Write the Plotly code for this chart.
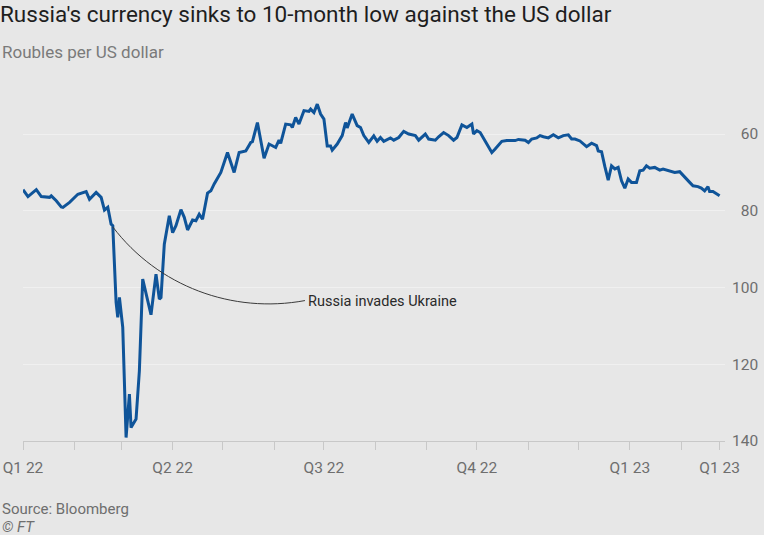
import pandas as pd
import plotly.graph_objects as go

# ---- data ----
dates = [
    "2022-01-01", "2022-01-04", "2022-01-09", "2022-01-12", "2022-01-17", "2022-01-18",
    "2022-01-21", "2022-01-24", "2022-01-25", "2022-01-29", "2022-02-03", "2022-02-08",
    "2022-02-10", "2022-02-14", "2022-02-17", "2022-02-19", "2022-02-21", "2022-02-23",
    "2022-02-24", "2022-02-26", "2022-02-27", "2022-02-28", "2022-03-02", "2022-03-04",
    "2022-03-06", "2022-03-07", "2022-03-10", "2022-03-12", "2022-03-14", "2022-03-16",
    "2022-03-19", "2022-03-22", "2022-03-24", "2022-03-25", "2022-03-27", "2022-03-30",
    "2022-04-01", "2022-04-03", "2022-04-06", "2022-04-08", "2022-04-10", "2022-04-13",
    "2022-04-15", "2022-04-17", "2022-04-19", "2022-04-22", "2022-04-24", "2022-04-26",
    "2022-04-30", "2022-05-04", "2022-05-08", "2022-05-11", "2022-05-15", "2022-05-18",
    "2022-05-19", "2022-05-22", "2022-05-26", "2022-05-29", "2022-06-02", "2022-06-04",
    "2022-06-05", "2022-06-08", "2022-06-11", "2022-06-12", "2022-06-14", "2022-06-16",
    "2022-06-19", "2022-06-22", "2022-06-23", "2022-06-25", "2022-06-27", "2022-06-29",
    "2022-07-01", "2022-07-03", "2022-07-05", "2022-07-06", "2022-07-09", "2022-07-12",
    "2022-07-14", "2022-07-15", "2022-07-18", "2022-07-21", "2022-07-23", "2022-07-25",
    "2022-07-28", "2022-07-31", "2022-08-02", "2022-08-04", "2022-08-06", "2022-08-10",
    "2022-08-12", "2022-08-15", "2022-08-18", "2022-08-21", "2022-08-25", "2022-08-27",
    "2022-08-31", "2022-09-02", "2022-09-06", "2022-09-08", "2022-09-11", "2022-09-14",
    "2022-09-17", "2022-09-19", "2022-09-22", "2022-09-25", "2022-09-28", "2022-09-29",
    "2022-10-01", "2022-10-03", "2022-10-06", "2022-10-10", "2022-10-12", "2022-10-16",
    "2022-10-19", "2022-10-22", "2022-10-24", "2022-10-26", "2022-10-30", "2022-11-01",
    "2022-11-03", "2022-11-06", "2022-11-08", "2022-11-10", "2022-11-13", "2022-11-16",
    "2022-11-19", "2022-11-22", "2022-11-25", "2022-11-27", "2022-11-29", "2022-12-02",
    "2022-12-06", "2022-12-09", "2022-12-12", "2022-12-13", "2022-12-15", "2022-12-17",
    "2022-12-19", "2022-12-21", "2022-12-23", "2022-12-25", "2022-12-27", "2022-12-29",
    "2022-12-31", "2023-01-02", "2023-01-05", "2023-01-07", "2023-01-09", "2023-01-11",
    "2023-01-13", "2023-01-16", "2023-01-19", "2023-01-21", "2023-01-24", "2023-01-28",
    "2023-01-31", "2023-02-03", "2023-02-06", "2023-02-08", "2023-02-11", "2023-02-13",
    "2023-02-15", "2023-02-17", "2023-02-18", "2023-02-20", "2023-02-22", "2023-02-24",
]
roubles_per_usd = [
    74.5, 76.3, 74.5, 76.3, 76.5, 76.1,
    77.4, 79.0, 79.1, 77.8, 75.7, 75.0,
    77.0, 75.2, 76.5, 79.8, 79.1, 83.5,
    83.9, 103.9, 107.8, 102.6, 110.4, 139.1,
    127.8, 136.5, 134.3, 121.7, 97.8, 101.3,
    107.1, 96.5, 103.0, 102.6, 88.7, 81.3,
    85.7, 83.9, 79.7, 81.7, 85.0, 82.4,
    82.6, 80.9, 82.2, 75.4, 74.8, 73.0,
    70.0, 64.8, 70.0, 64.8, 64.4, 62.2,
    62.0, 57.0, 66.3, 62.6, 63.5, 61.6,
    62.4, 57.4, 57.6, 58.3, 55.7, 57.4,
    53.9, 54.1, 53.5, 54.4, 52.2, 54.8,
    56.1, 63.1, 63.1, 64.2, 62.6, 60.4,
    57.0, 58.4, 54.8, 57.8, 58.3, 60.4,
    62.2, 60.5, 61.9, 60.9, 61.9, 61.0,
    61.6, 60.9, 59.3, 60.0, 60.4, 61.6,
    60.0, 61.3, 61.6, 60.7, 59.6, 60.4,
    61.6, 60.9, 57.6, 58.3, 57.4, 60.0,
    59.1, 59.6, 61.9, 64.8, 63.9, 61.9,
    61.7, 61.6, 61.7, 61.4, 61.6, 62.2,
    61.3, 61.0, 60.4, 60.7, 61.0, 60.2,
    61.0, 60.4, 60.2, 61.3, 61.3, 61.8,
    63.3, 62.4, 63.0, 64.4, 64.6, 68.5,
    72.0, 68.3, 69.1, 68.7, 72.2, 74.1,
    71.7, 72.6, 72.6, 69.6, 69.4, 68.3,
    68.9, 68.7, 69.4, 69.1, 69.4, 70.0,
    69.8, 71.3, 72.6, 73.5, 73.7, 74.1,
    74.8, 73.7, 75.0, 75.0, 75.5, 76.1,
]

# x-axis ticks: monthly ticks, labelled at quarter starts and at the last date
x_tick_dates = [
    "2022-01-01", "2022-02-01", "2022-03-01", "2022-04-01", "2022-05-01",
    "2022-06-01", "2022-07-01", "2022-08-01", "2022-09-01", "2022-10-01",
    "2022-11-01", "2022-12-01", "2023-01-01", "2023-02-01", "2023-02-24",
]
x_tick_labels = [
    "Q1 22", "", "", "Q2 22", "", "", "Q3 22", "", "", "Q4 22",
    "", "", "Q1 23", "", "Q1 23",
]
y_tick_values = [60, 80, 100, 120, 140]
y_tick_labels = ["\u200760", "\u200780", "100", "120", "140"]

annotation_text = "Russia invades Ukraine"
title_text = "Russia's currency sinks to 10-month low against the US dollar"
subtitle_text = "Roubles per US dollar"
source_text = "Source: Bloomberg"
credit_text = "© FT"

# ---- layout constants ----
W, H = 764, 535
ML, MR, MT, MB = 23, 39, 88, 94
PW, PH = W - ML - MR, H - MT - MB
BG = "#e7e7e7"
BLUE = "#0f5499"
GREY_TXT = "#6e6e6e"
FONT = "Roboto"

def ms(d):
    return pd.Timestamp(d).value / 1e6

# leader line (arc approximated with a cubic Bezier, in data coordinates)
p0 = ("2022-02-24", 84.2)
c1 = ("2022-03-23 05:00", 99.7)
c2 = ("2022-05-07", 106.9)
p3 = ("2022-06-19 14:00", 103.4)
path = "M {},{} C {},{} {},{} {},{}".format(
    ms(p0[0]), p0[1], ms(c1[0]), c1[1], ms(c2[0]), c2[1], ms(p3[0]), p3[1]
)

fig = go.Figure()
fig.add_trace(go.Scatter(
    x=pd.to_datetime(dates), y=roubles_per_usd, mode="lines",
    line=dict(color=BLUE, width=3), hoverinfo="skip", showlegend=False,
))

fig.add_shape(type="path", path=path, xref="x", yref="y",
              line=dict(color="#3a3a3a", width=1), layer="above")

fig.add_annotation(x=pd.Timestamp("2022-06-20 06:00"), y=103.6, xref="x", yref="y",
                   text=annotation_text, showarrow=False, xanchor="left", yanchor="middle",
                   font=dict(family=FONT, size=14.5, color="#2a2a2a"))

fig.add_annotation(x=-ML / PW, y=1 + (MT - 52) / PH, xref="paper", yref="paper",
                   text=subtitle_text, showarrow=False, xanchor="left", yanchor="middle",
                   font=dict(family=FONT, size=17, color="#7a7a7a"))
fig.add_annotation(x=-ML / PW, y=-(509 - (H - MB)) / PH, xref="paper", yref="paper",
                   text=source_text, showarrow=False, xanchor="left", yanchor="middle",
                   font=dict(family=FONT, size=15, color=GREY_TXT))
fig.add_annotation(x=-ML / PW, y=-(527 - (H - MB)) / PH, xref="paper", yref="paper",
                   text="<i>" + credit_text + "</i>", showarrow=False, xanchor="left",
                   yanchor="middle", font=dict(family=FONT, size=15, color=GREY_TXT))

fig.update_layout(
    width=W, height=H,
    margin=dict(l=ML, r=MR, t=MT, b=MB, pad=0, autoexpand=False),
    paper_bgcolor=BG, plot_bgcolor=BG,
    title=dict(text=title_text, x=0, xref="container", xanchor="left",
               y=1 - 6 / H, yref="container", yanchor="top",
               font=dict(family=FONT, size=22.5, color="#1e1e1e"), pad=dict(t=0, l=0, b=0, r=0)),
    font=dict(family=FONT, color=GREY_TXT),
    xaxis=dict(
        type="date", range=["2022-01-01", "2023-02-27 06:00"],
        tickvals=x_tick_dates, ticktext=x_tick_labels,
        showgrid=False, zeroline=False,
        showline=True, linecolor="#c8c8c8", linewidth=1,
        ticks="outside", ticklen=8, tickcolor="#c8c8c8", tickwidth=1,
        tickfont=dict(family=FONT, size=15.5, color=GREY_TXT),
        ticklabelstandoff=4, automargin=False,
    ),
    yaxis=dict(
        side="right", range=[140, 48],
        tickvals=y_tick_values, ticktext=y_tick_labels,
        showgrid=True, gridcolor="#f0f0f0", gridwidth=1, zeroline=False,
        showline=False, ticks="",
        tickfont=dict(family=FONT, size=15.5, color=GREY_TXT),
        ticklabelstandoff=6, automargin=False,
    ),
)

fig.write_html(
    "out.html",
    config={"displayModeBar": False},
    post_script="document.body.style.margin='0';document.body.style.overflow='hidden';",
)
